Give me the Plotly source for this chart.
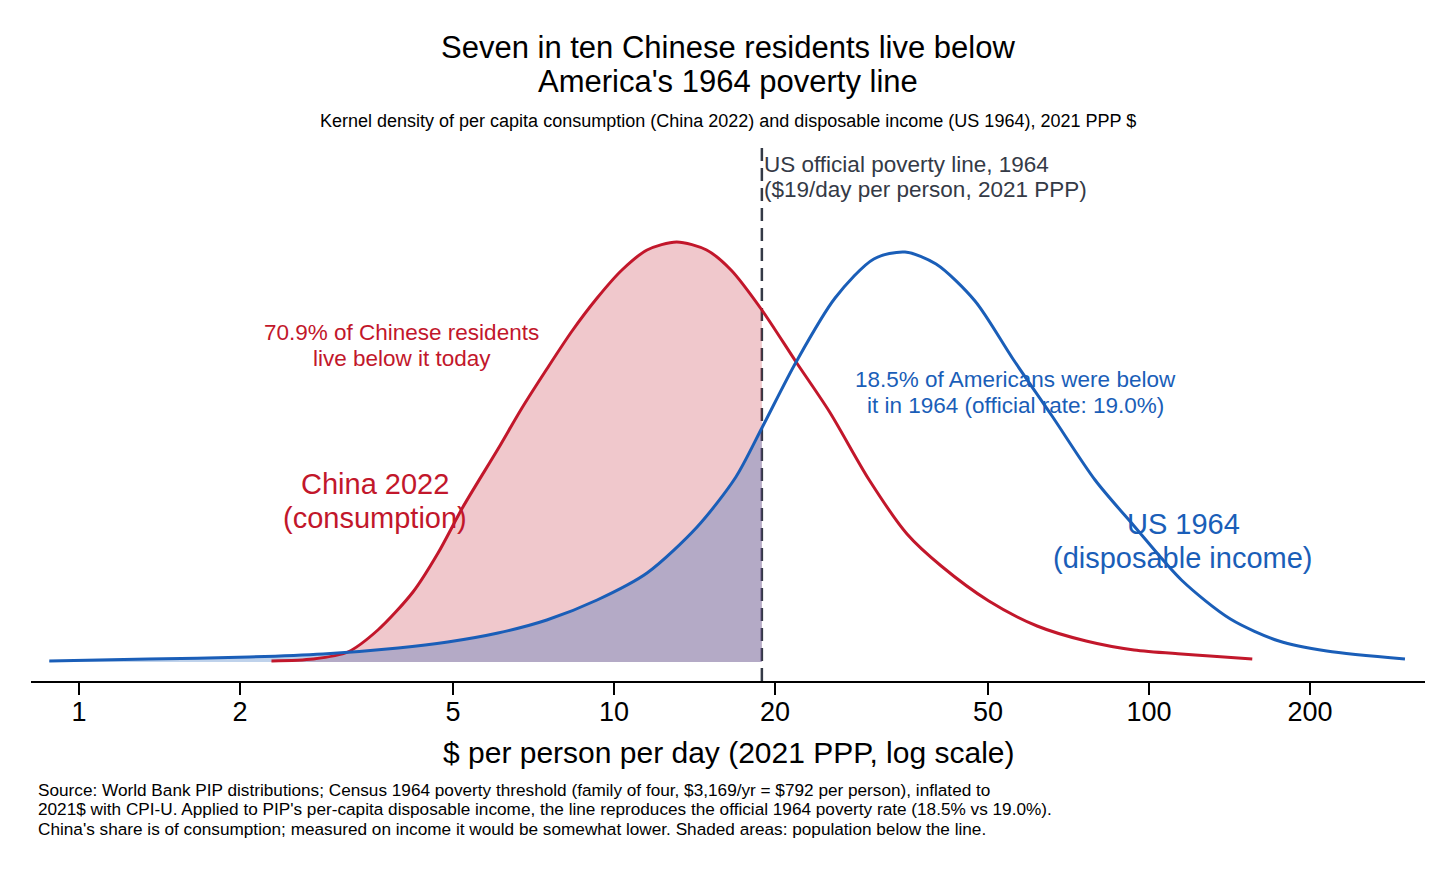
import numpy as np
import plotly.graph_objects as go

# Kernel densities ($/day, 2021 PPP; relative density)
china_x = [2.29, 2.74, 3.18, 3.62, 4.21, 4.69, 5.22, 6.07, 6.73, 7.49, 8.35, 9.30, 10.35,
           11.53, 13.1, 14.9, 16.55, 18.9, 21.9, 25.3, 30.0, 35.3, 40.9, 50.2, 61.8,
           76.3, 93.8, 115, 130, 156]
china_y = [0.001, 0.003, 0.010, 0.032, 0.070, 0.109, 0.155, 0.213, 0.254, 0.293, 0.331,
           0.364, 0.392, 0.412, 0.420, 0.412, 0.392, 0.352, 0.300, 0.250, 0.182, 0.128,
           0.096, 0.061, 0.036, 0.021, 0.012, 0.008, 0.006, 0.003]

us_x = [0.88, 1.35, 2.08, 2.86, 3.95, 4.89, 6.07, 7.49, 9.30, 11.53, 14.3, 16.9, 18.9,
        21.9, 25.9, 30.6, 35.0, 40.0, 47.3, 55.7, 65.9, 79.3, 93.8, 115, 142, 175, 215, 301]
us_y = [0.001, 0.003, 0.005, 0.008, 0.014, 0.020, 0.029, 0.042, 0.062, 0.089, 0.135,
        0.185, 0.234, 0.300, 0.364, 0.403, 0.410, 0.398, 0.361, 0.303, 0.246, 0.182,
        0.136, 0.082, 0.043, 0.021, 0.011, 0.003]

poverty_line = 18.9
tick_vals = [1, 2, 5, 10, 20, 50, 100, 200]

RED = "#c2172b"
BLUE = "#1a5eb8"
GREY = "#343a46"
FONT = "Liberation Sans, Arial, Helvetica, sans-serif"

# plot box on the page (the page body adds an 8px offset)
BOX_L, BOX_R, BOX_T, BOX_B = 31, 1425, 140, 681
OFF = 8


def px_x(p):
    return (p - BOX_L) / (BOX_R - BOX_L)


def px_y(p):
    return (BOX_B - p) / (BOX_B - BOX_T)


cx, cy = np.array(china_x), np.array(china_y)
ux, uy = np.array(us_x), np.array(us_y)
cm = cx <= poverty_line
um = ux <= poverty_line

fig = go.Figure()

# shaded areas: population below the line
fig.add_trace(go.Scatter(x=cx[cm], y=cy[cm], mode="lines", line=dict(width=0, shape="spline", smoothing=0.8),
                         fill="tozeroy", fillcolor="rgba(194,23,43,0.24)", hoverinfo="skip"))
fig.add_trace(go.Scatter(x=ux[um], y=uy[um], mode="lines", line=dict(width=0, shape="spline", smoothing=0.8),
                         fill="tozeroy", fillcolor="rgba(26,94,184,0.28)", hoverinfo="skip"))

# density curves
fig.add_trace(go.Scatter(x=cx, y=cy, mode="lines", name="China 2022",
                         line=dict(color=RED, width=3, shape="spline", smoothing=0.8)))
fig.add_trace(go.Scatter(x=ux, y=uy, mode="lines", name="US 1964",
                         line=dict(color=BLUE, width=3, shape="spline", smoothing=0.8)))

# poverty line
fig.add_shape(type="line", x0=poverty_line, x1=poverty_line, xref="x", yref="paper",
              y0=0, y1=px_y(143), layer="below",
              line=dict(color=GREY, width=2.5, dash="13px,7px"))


def note(lines, x, ys, size, color, xanchor="center", xref="paper"):
    for text, y in zip(lines, ys):
        fig.add_annotation(text=text, x=x, y=px_y(y), xref=xref, yref="paper", showarrow=False,
                           xanchor=xanchor, yanchor="middle",
                           font=dict(family=FONT, size=size, color=color))


note(["Seven in ten Chinese residents live below", "America's 1964 poverty line"],
     px_x(728), [47, 82], 31, "black")
note(["Kernel density of per capita consumption (China 2022) and disposable income (US 1964), 2021 PPP $"],
     px_x(728), [121], 18, "black")

note(["US official poverty line, 1964", "($19/day per person, 2021 PPP)"],
     np.log10(poverty_line), [164, 190], 22.5, GREY, xanchor="left", xref="x")
note(["70.9% of Chinese residents", "live below it today"], px_x(402), [332, 358], 22.5, RED)
note(["China 2022", "(consumption)"], px_x(375), [484, 518], 29, RED)
note(["18.5% of Americans were below", "it in 1964 (official rate: 19.0%)"],
     px_x(1015), [379, 405], 22.5, BLUE)
note(["US 1964", "(disposable income)"], px_x(1183), [524, 558], 29, BLUE)

note(["$ per person per day (2021 PPP, log scale)"], px_x(728), [752], 30, "black")
note(["Source: World Bank PIP distributions; Census 1964 poverty threshold (family of four, $3,169/yr = $792 per person), inflated to",
      "2021$ with CPI-U. Applied to PIP's per-capita disposable income, the line reproduces the official 1964 poverty rate (18.5% vs 19.0%).",
      "China's share is of consumption; measured on income it would be somewhat lower. Shaded areas: population below the line."],
     px_x(36), [789.5, 809, 828.5], 17.2, "black", xanchor="left")

fig.update_layout(
    width=1456, height=874,
    margin=dict(l=BOX_L - OFF, r=1456 - BOX_R + OFF, t=BOX_T - OFF, b=874 - BOX_B + OFF),
    paper_bgcolor="white", plot_bgcolor="white",
    showlegend=False,
    font=dict(family=FONT),
    xaxis=dict(type="log", range=[-0.0897, 2.516], tickvals=tick_vals,
               ticktext=[str(v) for v in tick_vals], ticks="outside", ticklen=12,
               tickwidth=1.5, tickcolor="black", showline=True, linecolor="black",
               linewidth=2, showgrid=False, zeroline=False, ticklabelstandoff=-6,
               tickfont=dict(family=FONT, size=27, color="black")),
    yaxis=dict(range=[-0.019, 0.522], visible=False, showgrid=False, zeroline=False),
)

fig.write_html("out.html")
